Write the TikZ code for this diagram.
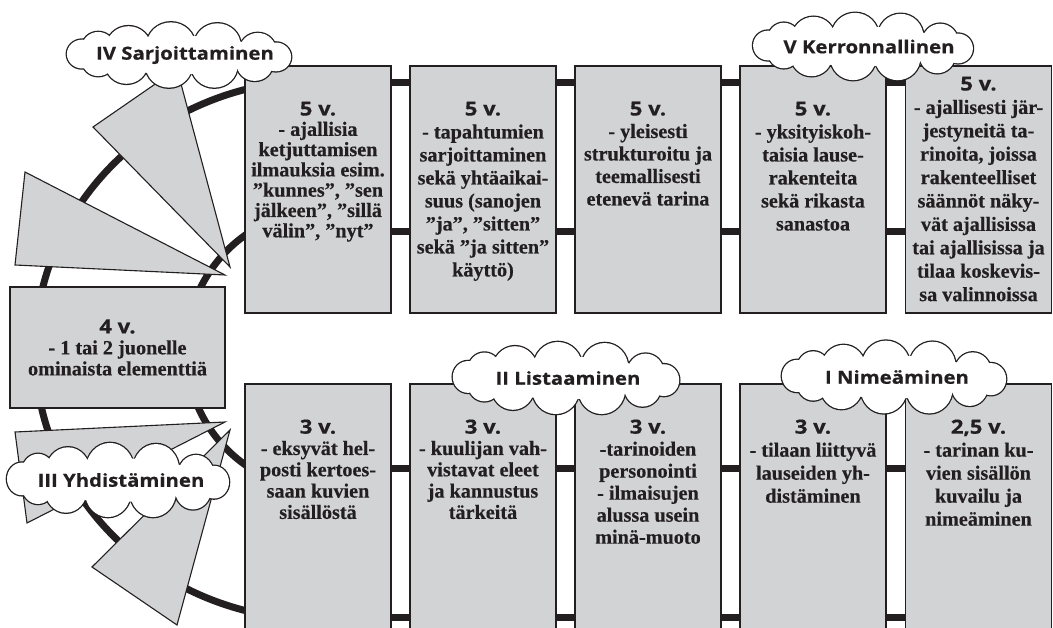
\documentclass[tikz,border=0pt]{standalone}
\usepackage{fontspec}
\setmainfont{Liberation Serif}
\newfontfamily\bodyserif{Liberation Serif}[BoldFeatures={FakeBold=0.4}]
\newfontfamily\headfont{Open Sans}[BoldFeatures={FakeStretch=1.13,FakeBold=0.5}]
\definecolor{boxgray}{RGB}{209,211,212}
\definecolor{ink}{RGB}{35,31,32}
\pgfdeclarelayer{background}
\pgfsetlayers{background,main}
\newcommand\bodyat[1]{\bodyserif\bfseries\fontsize{20.2}{#1}\selectfont}
\newcommand\cloudfnt{\headfont\bfseries\fontsize{18}{20}\selectfont}
\newcommand\hd[1]{{\headfont\bfseries\fontsize{19.5}{20.5}\selectfont #1}}
\tikzset{
  gbox/.style={draw=ink, line width=1.3pt, fill=boxgray, minimum width=146pt, inner sep=0pt},
  topbox/.style={gbox, minimum height=247pt},
  botbox/.style={gbox, minimum height=256pt},
  txt/.style={align=center, text=ink, font={\bodyat{23}}, anchor=north, inner sep=0pt},
  pitch/.style={font={\bodyat{#1}}},
  bar/.style={line width=7pt, draw=ink},
  tri/.style={draw=ink, line width=1.1pt, fill=boxgray, line join=miter},
  puffedge/.style={draw=ink, line width=2.6pt},
  cloudtxt/.style={font=\cloudfnt, text=ink, inner sep=0pt},
}
\newcommand\puffs{-96/-1/15, -80/-8/16, -50/-8/22, -8/-10/24, 38/-10/23, 78/-5/18, 96/2/15, 75/9/18, 35/11/23, -10/11/23, -52/9/21, -80/6/16}
\newcommand\cloudshape[3]{%
  \begin{scope}[shift={(#1)}, xscale=#2, yscale=#3]
    \foreach \cx/\cy/\r in \puffs {\draw[puffedge] (\cx,\cy) circle[radius=\r];}
    \foreach \cx/\cy/\r in \puffs {\fill[white] (\cx,\cy) circle[radius=\r];}
    \fill[white] (0,0) ellipse[x radius=85, y radius=20];
  \end{scope}}
\begin{document}
\begin{tikzpicture}[x=1pt,y=-1pt]
\useasboundingbox (0,0) rectangle (1053,628);
% boxes
\node[topbox] (t1) at (318,189.5) {};
\node[topbox] (t2) at (483,189.5) {};
\node[topbox] (t3) at (648,189.5) {};
\node[topbox] (t4) at (813,189.5) {};
\node[topbox] (t5) at (978.5,189.5) {};
\node[botbox] (b1) at (318,512) {};
\node[botbox] (b2) at (483,512) {};
\node[botbox] (b3) at (648,512) {};
\node[botbox] (b4) at (813,512) {};
\node[botbox] (b5) at (978.5,512) {};
\node[gbox, minimum width=215pt, minimum height=121pt, align=center, text=ink, pitch=21] (l4) at (117.5,347.5)
  {\hd{4 v.}\\- 1 tai 2 juonelle\\ominaista elementtiä};
% connectors
\coordinate (ya) at (0,83);
\coordinate (yb) at (0,232);
\coordinate (yc) at (0,468);
\coordinate (yd) at (0,617);
\coordinate (oS) at (270.5,615.9);
\coordinate (iS) at (256.5,472.1);
\begin{pgfonlayer}{background}
  \draw[bar] (t1.center |- ya) -- (t5.center |- ya);
  \draw[bar] (t1.center |- yb) -- (t5.center |- yb);
  \draw[bar] (b1.center |- yc) -- (b5.center |- yc);
  \draw[bar] (b1.center |- yd) -- (b5.center |- yd);
  \draw[bar] (oS) arc[start angle=100, end angle=260, x radius=285, y radius=270];
  \draw[bar] (iS) arc[start angle=120, end angle=240, radius=141];
\end{pgfonlayer}
% triangles
\draw[tri] (93,127) -- (177,69) -- (230,267) -- cycle;
\draw[tri] (25,172) -- (15,265) -- (225,275) -- cycle;
\draw[tri] (15,432) -- (225,422) -- (27,523) -- cycle;
\draw[tri] (230,430) -- (177,625) -- (92,567) -- cycle;
% texts top row
\node[txt, pitch=20.3, yshift=-36pt] (t1l) at (t1.north) {\hd{5 v.}\\- ajallisia\\ketjuttamisen\\ilmauksia esim.\\”kunnes”, ”sen\\jälkeen”, ”sillä\\välin”, ”nyt”};
\node[txt, yshift=-36pt] (t2l) at (t2.north) {\hd{5 v.}\\- tapahtumien\\sarjoittaminen\\sekä yhtäaikai-\\suus (sanojen\\”ja”, ”sitten”\\sekä ”ja sitten”\\käyttö)};
\node[txt, pitch=22.5, yshift=-36pt] (t3l) at (t3.north) {\hd{5 v.}\\- yleisesti\\strukturoitu ja\\teemallisesti\\etenevä tarina};
\node[txt, yshift=-36pt] (t4l) at (t4.north) {\hd{5 v.}\\- yksityiskoh-\\taisia lause-\\rakenteita\\sekä rikasta\\sanastoa};
\node[txt, pitch=23.4, yshift=-11pt] (t5l) at (t5.north) {\hd{5 v.}\\- ajallisesti jär-\\jestyneitä ta-\\rinoita, joissa\\rakenteelliset\\säännöt näky-\\vät ajallisissa\\tai ajallisissa ja\\tilaa koskevis-\\sa valinnoissa};
% texts bottom row
\node[txt, pitch=21.3, yshift=-36pt] (b1l) at (b1.north) {\hd{3 v.}\\- eksyvät hel-\\posti kertoes-\\saan kuvien\\sisällöstä};
\node[txt, pitch=21.3, yshift=-36pt] (b2l) at (b2.north) {\hd{3 v.}\\- kuulijan vah-\\vistavat eleet\\ja kannustus\\tärkeitä};
\node[txt, pitch=22, yshift=-36pt] (b3l) at (b3.north) {\hd{3 v.}\\-tarinoiden\\personointi\\- ilmaisujen\\alussa usein\\minä-muoto};
\node[txt, yshift=-36pt] (b4l) at (b4.north) {\hd{3 v.}\\- tilaan liittyvä\\lauseiden yh-\\distäminen};
\node[txt, yshift=-36pt] (b5l) at (b5.north) {\hd{2,5 v.}\\- tarinan ku-\\vien sisällön\\kuvailu ja\\nimeäminen};
% clouds
\coordinate (c4p) at (179,55);
\coordinate (c5p) at (863,46.5);
\coordinate (c2p) at (566,378);
\coordinate (c1p) at (894,377);
\coordinate (c3p) at (118,480);
\cloudshape{c4p}{1.01}{0.96}
\node[cloudtxt] (c4) at ([xshift=6pt]c4p) {IV Sarjoittaminen};
\cloudshape{c5p}{0.99}{0.99}
\node[cloudtxt] (c5) at ([xshift=6pt]c5p) {V Kerronnallinen};
\cloudshape{c2p}{1.02}{1.06}
\node[cloudtxt] (c2) at ([xshift=2pt]c2p) {II Listaaminen};
\cloudshape{c1p}{1.01}{1.07}
\node[cloudtxt] (c1) at ([xshift=3pt]c1p) {I Nimeäminen};
\cloudshape{c3p}{1.0}{1.09}
\node[cloudtxt] (c3) at ([xshift=3pt]c3p) {III Yhdistäminen};
\end{tikzpicture}
\end{document}
